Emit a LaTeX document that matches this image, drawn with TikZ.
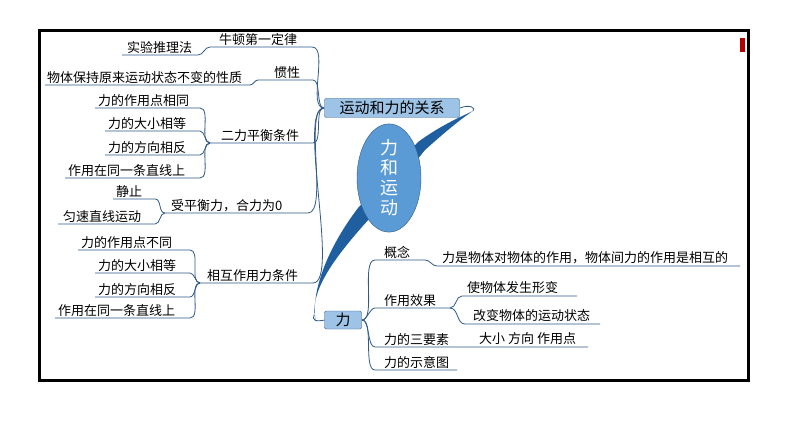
\documentclass[tikz,border=0pt]{standalone}
\usetikzlibrary{shapes.geometric}
\usepackage{fontspec}
\setmainfont{Noto Sans CJK SC}
\definecolor{ln}{HTML}{2E5A88}
\definecolor{boxf}{HTML}{9DC3E6}
\definecolor{ell}{HTML}{5B9BD5}
\definecolor{dk}{HTML}{1F5F9F}
\begin{document}
\begin{tikzpicture}[x=1pt,y=-1pt,
  lbl/.style={anchor=south west,inner sep=1pt,font=\fontsize{13}{13}\selectfont},
  conn/.style={draw=ln,line width=0.8pt}]
\useasboundingbox (0,0) rectangle (794,446);
\fill[white] (0,0) rectangle (794,446);
\draw[line width=3pt] (39,31) rectangle (748,380);
\fill[red!70!black] (740,38) rectangle (745,52);
% tapered band
\fill[dk] (316,322) .. controls (308,295) and (330,262) .. (370,218) -- (425,150) .. controls (445,132) and (462,118) .. (473,111)
  .. controls (458,118) and (440,126) .. (418,142) -- (358,208) .. controls (326,250) and (310,295) .. (316,322) -- cycle;
\draw[conn] (460,108) .. controls (470,104) and (476,108) .. (473,111);
\draw[conn] (325,320) .. controls (315,322) and (312,320) .. (314,315);
% root boxes
\node[draw=ln,fill=boxf,rounded corners=2pt,minimum width=135pt,minimum height=19pt,inner sep=1pt,font=\fontsize{15}{15}\selectfont] (root) at (392,108) {运动和力的关系};
\node[draw=ln,fill=boxf,rounded corners=2pt,minimum width=37pt,minimum height=18pt,inner sep=1pt,font=\fontsize{15}{15}\selectfont] (li) at (343,320) {力};
\node[ellipse,draw=ln,fill=ell,minimum width=64pt,minimum height=104pt,inner sep=0pt,text=white,font=\fontsize{18}{20}\selectfont,align=center] (core) at (389,178) {力\\和\\运\\动};
% ---------- left side
\coordinate (rl) at (324,108);
\node[lbl] (n1) at (218,47) {牛顿第一定律};
\draw[conn] (rl) to[out=180,in=0,looseness=0.7] (312,47) -- (210,47) to[out=180,in=0] (198,55) -- (122,55);
\node[lbl] (n1a) at (126,55) {实验推理法};
\node[lbl] (n2) at (273,80) {惯性};
\draw[conn] (rl) to[out=180,in=0,looseness=0.7] (313,80) -- (258,80) to[out=180,in=0] (250,85) -- (45,85);
\node[lbl] (n2a) at (46,85) {物体保持原来运动状态不变的性质};
\node[lbl] (n3) at (220,143) {二力平衡条件};
\draw[conn] (rl) to[out=180,in=0,looseness=0.7] (313,143) -- (210,143);
\foreach \y/\x/\t in {108/95/力的作用点相同,131/105/力的大小相等,155/105/力的方向相反,178/65/作用在同一条直线上}{
  \draw[conn] (210,143) to[out=180,in=0,looseness=0.8] (200,\y) -- (\x,\y);
  \node[lbl] at (\x+2,\y) {\t};}
\node[lbl] (n4) at (170,213) {受平衡力，合力为0};
\draw[conn] (rl) to[out=180,in=0,looseness=0.5] (308,213) -- (165,213);
\draw[conn] (165,213) to[out=180,in=0] (155,199) -- (113,199);
\node[lbl] at (115,199) {静止};
\draw[conn] (165,213) to[out=180,in=0] (155,224) -- (58,224);
\node[lbl] at (62,224) {匀速直线运动};
\node[lbl] (n5) at (206,283) {相互作用力条件};
\draw[conn] (rl) to[out=180,in=0,looseness=0.4] (313,283) -- (200,283);
\foreach \y/\x/\t in {250/78/力的作用点不同,273/95/力的大小相等,297/95/力的方向相反,318/55/作用在同一条直线上}{
  \draw[conn] (200,283) to[out=180,in=0,looseness=0.8] (190,\y) -- (\x,\y);
  \node[lbl] at (\x+2,\y) {\t};}
% ---------- right side
\coordinate (lr) at (362,320);
\node[lbl] (m1) at (383,260) {概念};
\draw[conn] (lr) to[out=0,in=180,looseness=0.6] (375,260) -- (425,260) to[out=0,in=180] (437,266) -- (740,266);
\node[lbl] (m1a) at (441,265) {力是物体对物体的作用，物体间力的作用是相互的};
\node[lbl] (m2) at (383,308) {作用效果};
\draw[conn] (lr) to[out=0,in=180,looseness=0.7] (375,308) -- (450,308);
\draw[conn] (450,308) to[out=0,in=180] (462,296) -- (577,296);
\node[lbl] at (466,295) {使物体发生形变};
\draw[conn] (450,308) to[out=0,in=180] (465,324) -- (600,324);
\node[lbl] at (472,323) {改变物体的运动状态};
\node[lbl] (m3) at (383,347) {力的三要素};
\draw[conn] (lr) to[out=0,in=180,looseness=0.7] (375,347) -- (588,347);
\node[lbl] at (478,346) {大小 方向 作用点};
\node[lbl] (m4) at (383,370) {力的示意图};
\draw[conn] (lr) to[out=0,in=180,looseness=0.6] (375,370) -- (457,370);
\end{tikzpicture}
\end{document}
